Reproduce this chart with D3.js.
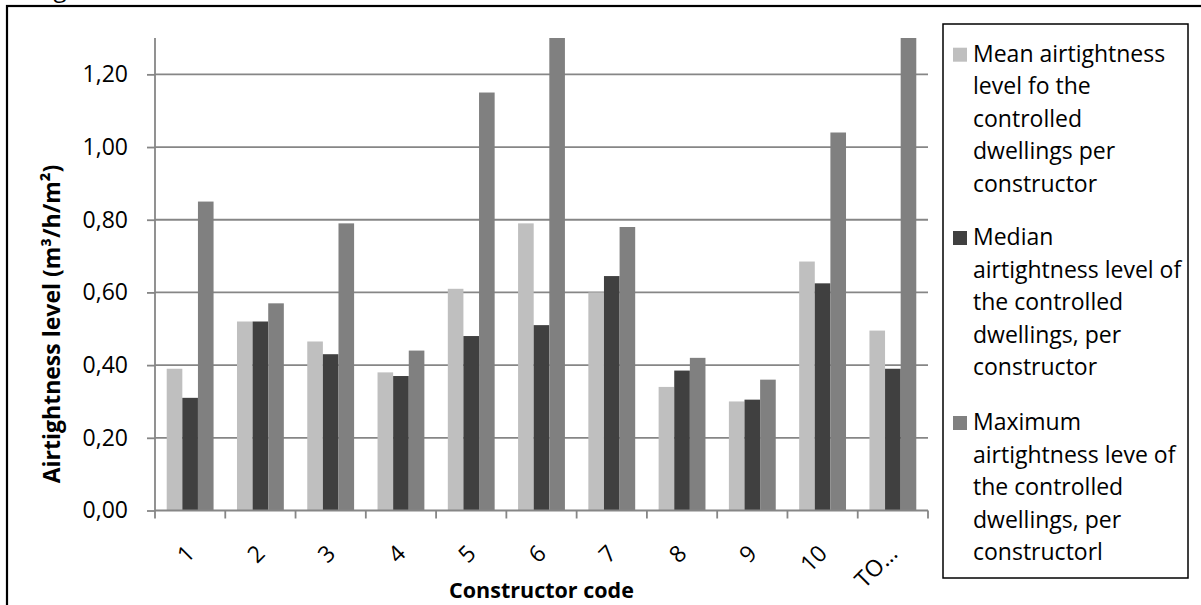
<!DOCTYPE html>
<html>
<head>
<meta charset="utf-8">
<script src="https://cdn.jsdelivr.net/npm/d3@7"></script>
<style>
  body { margin: 0; background: #fff; }
  svg { display: block; }
  text { font-family: "Open Sans", "Noto Sans", sans-serif; fill: #000; }
</style>
</head>
<body>
<svg id="chart" width="1201" height="605"></svg>
<script>
// Constructor codes and what the axis prints for each
const categories = ["1", "2", "3", "4", "5", "6", "7", "8", "9", "10", "TOTAL"];
const tickLabels = ["1", "2", "3", "4", "5", "6", "7", "8", "9", "10", "TO…"];

// Airtightness level (m³/h/m²) per constructor
const meanValues   = [0.39, 0.52, 0.465, 0.38, 0.61, 0.79, 0.60, 0.34, 0.30, 0.685, 0.495];
const medianValues = [0.31, 0.52, 0.43, 0.37, 0.48, 0.51, 0.645, 0.385, 0.305, 0.625, 0.39];
const maxValues    = [0.85, 0.57, 0.79, 0.44, 1.15, 1.42, 0.78, 0.42, 0.36, 1.04, 1.56];

const seriesKeys = ["mean", "median", "max"];
const seriesColors = ["#bfbfbf", "#404040", "#808080"];
const legendLines = [
  ["Mean airtightness", "level fo the", "controlled", "dwellings per", "constructor"],
  ["Median", "airtightness level of", "the controlled", "dwellings, per", "constructor"],
  ["Maximum", "airtightness leve of", "the controlled", "dwellings, per", "constructorl"]
];

const yTicks = [0, 0.2, 0.4, 0.6, 0.8, 1.0, 1.2];
const yMax = 1.3;

const rows = categories.map((c, i) => ({
  cat: c, label: tickLabels[i],
  mean: meanValues[i], median: medianValues[i], max: maxValues[i]
}));

const svg = d3.select("#chart");

// Page frame and the caption line above it
svg.append("text").attr("x", 35).attr("y", -3).style("font-size", "24px").text("Figure");
svg.append("rect")
  .attr("x", 7).attr("y", 6).attr("width", 1230).attr("height", 640)
  .attr("fill", "none").attr("stroke", "#000").attr("stroke-width", 2.2);

const plot = { left: 155, right: 928, top: 38, bottom: 510.5 };

const x = d3.scaleBand().domain(categories).range([plot.left, plot.right]).paddingInner(0).paddingOuter(0);
const y = d3.scaleLinear().domain([0, yMax]).range([plot.bottom, plot.top]).clamp(true);

// bars are 1/4.5 of a category step: 150% gap width
const step = x.step();
const barW = step / 4.5;
const xs = d3.scaleBand().domain(seriesKeys)
  .range([barW * 0.75, barW * 0.75 + barW * 3]).padding(0);
const color = d3.scaleOrdinal().domain(seriesKeys).range(seriesColors);

const gridColor = "#868686";

// horizontal gridlines
svg.append("g").selectAll("line").data(yTicks.filter(v => v > 0)).join("line")
  .attr("x1", plot.left).attr("x2", plot.right)
  .attr("y1", d => y(d)).attr("y2", d => y(d))
  .attr("stroke", gridColor).attr("stroke-width", 1.8);

// bars
svg.append("g").selectAll("g").data(rows).join("g")
  .attr("transform", d => `translate(${x(d.cat)},0)`)
  .selectAll("rect")
  .data(d => seriesKeys.map(k => ({ key: k, value: d[k] })))
  .join("rect")
  .attr("x", d => xs(d.key))
  .attr("width", xs.bandwidth())
  .attr("y", d => y(d.value))
  .attr("height", d => y(0) - y(d.value))
  .attr("fill", d => color(d.key));

// y axis
const yAxis = d3.axisLeft(y).tickValues(yTicks).tickSize(8).tickPadding(19)
  .tickFormat(d => d3.format(".2f")(d).replace(".", ","));
const gy = svg.append("g").attr("transform", `translate(${plot.left},0)`).call(yAxis);
gy.select(".domain").attr("stroke", gridColor).attr("stroke-width", 1.8)
  .attr("d", `M0,${y(0)}V${y(yMax)}`);
gy.selectAll(".tick line").attr("stroke", gridColor).attr("stroke-width", 1.8);
gy.selectAll(".tick text").style("font-size", "23px").style("font-family", "\"Open Sans\", sans-serif").attr("fill", "#000");

// x axis: baseline with ticks between categories
const gx = svg.append("g");
gx.append("line").attr("x1", plot.left).attr("x2", plot.right)
  .attr("y1", y(0)).attr("y2", y(0)).attr("stroke", gridColor).attr("stroke-width", 1.8);
const boundaries = categories.map(c => x(c)).concat([plot.right]);
gx.selectAll("line.tk").data(boundaries).join("line").attr("class", "tk")
  .attr("x1", d => d).attr("x2", d => d)
  .attr("y1", y(0)).attr("y2", y(0) + 8)
  .attr("stroke", gridColor).attr("stroke-width", 1.8);
gx.selectAll("text").data(rows).join("text")
  .attr("transform", d => `translate(${x(d.cat) + step / 2 + 6},555) rotate(-45)`)
  .attr("text-anchor", "end")
  .style("font-size", "23px")
  .text(d => d.label);

// axis titles
svg.append("text")
  .attr("transform", "translate(60,324) rotate(-90)")
  .attr("text-anchor", "middle")
  .style("font-size", "23px").style("font-weight", "bold")
  .text("Airtightness level (m³/h/m²)");
svg.append("text")
  .attr("x", (plot.left + plot.right) / 2).attr("y", 598)
  .attr("text-anchor", "middle")
  .style("font-size", "21.5px").style("font-weight", "bold")
  .text("Constructor code");

// legend
const lg = svg.append("g");
lg.append("rect").attr("x", 943).attr("y", 24).attr("width", 245).attr("height", 554)
  .attr("fill", "#fff").attr("stroke", "#000").attr("stroke-width", 1.5);
const entryTop = [61.7, 245, 430];
const linePitch = 32.5;
legendLines.forEach((lines, i) => {
  lg.append("rect").attr("x", 953).attr("y", entryTop[i] - 14)
    .attr("width", 14).attr("height", 14).attr("fill", seriesColors[i]);
  lg.selectAll(null).data(lines).join("text")
    .attr("x", 973).attr("y", (d, j) => entryTop[i] + j * linePitch)
    .style("font-size", "23px")
    .text(d => d);
});
</script>
</body>
</html>
